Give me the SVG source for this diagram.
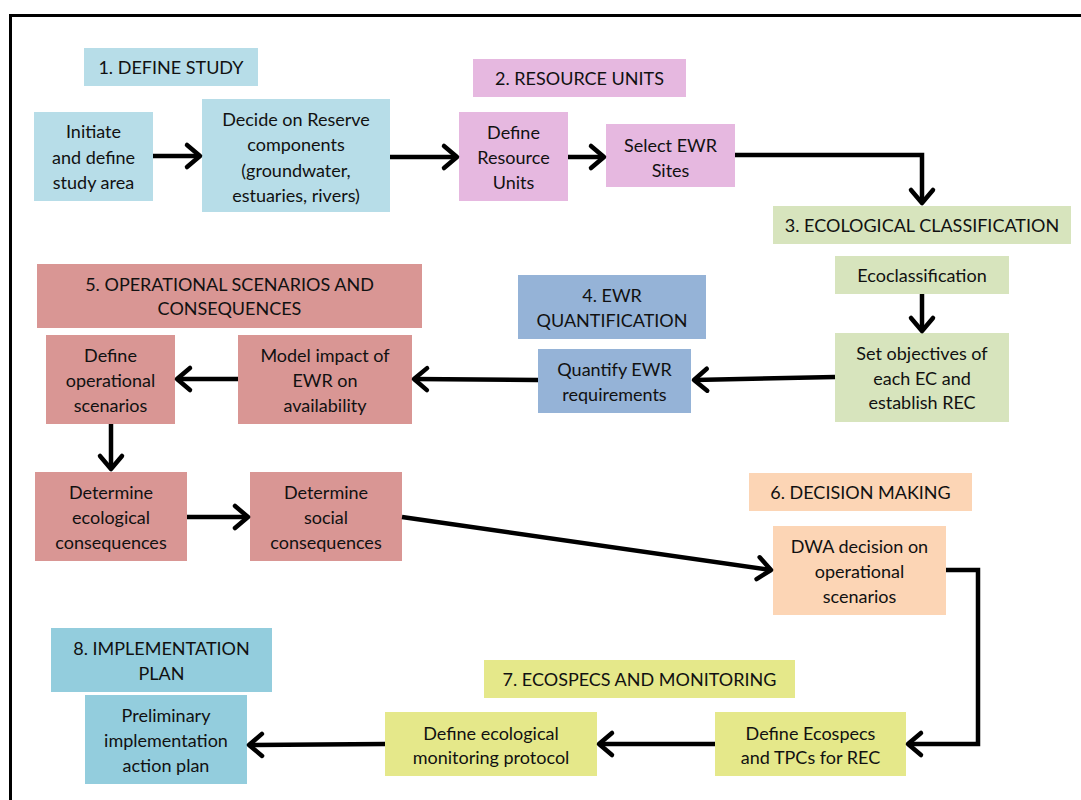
<svg xmlns="http://www.w3.org/2000/svg" width="1081" height="800" viewBox="0 0 1081 800">
<style>
text{font-family:Lato,"Open Sans","Liberation Sans",sans-serif;font-size:18px;fill:#111;text-anchor:middle;dominant-baseline:central}
.c1{fill:#b7dde8}.c2{fill:#e6b8e0}.c3{fill:#d7e4bd}.c4{fill:#95b3d7}.c5{fill:#d99694}.c6{fill:#fcd5b5}.c7{fill:#e5e88a}.c8{fill:#93cddd}
.conn path{fill:none;stroke:#000;stroke-width:4.5;stroke-linejoin:miter;marker-end:url(#ah)}
</style>
<defs>
<marker id="ah" markerUnits="userSpaceOnUse" markerWidth="30" markerHeight="30" viewBox="-20 -15 30 30" refX="0" refY="0" orient="auto" overflow="visible">
<path d="M-13,-11 L0,0 L-13,11" fill="none" stroke="#000" stroke-width="4.5" stroke-linecap="round" stroke-linejoin="round"/>
</marker>
</defs>
<rect x="0" y="0" width="1081" height="800" fill="#fff"/>
<rect x="10.5" y="15.5" width="1100" height="900" fill="none" stroke="#000" stroke-width="3"/>

<g id="h1"><rect class="c1" x="84" y="48" width="174" height="38"/><text x="171" y="67">1. DEFINE STUDY</text></g>
<g id="initiate"><rect class="c1" x="34" y="112" width="119" height="89"/><text x="93.5"><tspan x="93.5" y="131">Initiate</tspan><tspan x="93.5" y="157">and define</tspan><tspan x="93.5" y="182">study area</tspan></text></g>
<g id="decide"><rect class="c1" x="202" y="99" width="188" height="113"/><text x="296"><tspan x="296" y="119">Decide on Reserve</tspan><tspan x="296" y="144">components</tspan><tspan x="296" y="170">(groundwater,</tspan><tspan x="296" y="195">estuaries, rivers)</tspan></text></g>

<g id="h2"><rect class="c2" x="473" y="59" width="213" height="38"/><text x="579.5" y="78">2. RESOURCE UNITS</text></g>
<g id="defineRU"><rect class="c2" x="459" y="112" width="109" height="89"/><text x="513.5"><tspan x="513.5" y="132">Define</tspan><tspan x="513.5" y="157">Resource</tspan><tspan x="513.5" y="182">Units</tspan></text></g>
<g id="selectEWR"><rect class="c2" x="606" y="124" width="129" height="63"/><text x="670.5"><tspan x="670.5" y="145">Select EWR</tspan><tspan x="670.5" y="170">Sites</tspan></text></g>

<g id="h3"><rect class="c3" x="773" y="206" width="298" height="38"/><text x="922" y="225">3. ECOLOGICAL CLASSIFICATION</text></g>
<g id="ecoclass"><rect class="c3" x="835" y="256" width="174" height="38"/><text x="922" y="275">Ecoclassification</text></g>
<g id="setobj"><rect class="c3" x="835" y="333" width="174" height="89"/><text x="922"><tspan x="922" y="353">Set objectives of</tspan><tspan x="922" y="378">each EC and</tspan><tspan x="922" y="402">establish REC</tspan></text></g>

<g id="h4"><rect class="c4" x="518" y="275" width="188" height="64"/><text x="612"><tspan x="612" y="295">4. EWR</tspan><tspan x="612" y="320">QUANTIFICATION</tspan></text></g>
<g id="quantify"><rect class="c4" x="538" y="349" width="153" height="64"/><text x="614.5"><tspan x="614.5" y="369">Quantify EWR</tspan><tspan x="614.5" y="394">requirements</tspan></text></g>

<g id="h5"><rect class="c5" x="37" y="264" width="385" height="64"/><text x="229.5"><tspan x="229.5" y="284">5. OPERATIONAL SCENARIOS AND</tspan><tspan x="229.5" y="308">CONSEQUENCES</tspan></text></g>
<g id="defineop"><rect class="c5" x="46" y="335" width="129" height="89"/><text x="110.5"><tspan x="110.5" y="355">Define</tspan><tspan x="110.5" y="380">operational</tspan><tspan x="110.5" y="405">scenarios</tspan></text></g>
<g id="model"><rect class="c5" x="238" y="335" width="174" height="89"/><text x="325"><tspan x="325" y="355">Model impact of</tspan><tspan x="325" y="380">EWR on</tspan><tspan x="325" y="405">availability</tspan></text></g>
<g id="detEco"><rect class="c5" x="35" y="472" width="152" height="89"/><text x="111"><tspan x="111" y="492">Determine</tspan><tspan x="111" y="517">ecological</tspan><tspan x="111" y="542">consequences</tspan></text></g>
<g id="detSoc"><rect class="c5" x="250" y="472" width="152" height="89"/><text x="326"><tspan x="326" y="492">Determine</tspan><tspan x="326" y="517">social</tspan><tspan x="326" y="542">consequences</tspan></text></g>

<g id="h6"><rect class="c6" x="749" y="473" width="223" height="38"/><text x="860.5" y="492">6. DECISION MAKING</text></g>
<g id="dwa"><rect class="c6" x="773" y="526" width="173" height="89"/><text x="859.5"><tspan x="859.5" y="546">DWA decision on</tspan><tspan x="859.5" y="571">operational</tspan><tspan x="859.5" y="596">scenarios</tspan></text></g>

<g id="h7"><rect class="c7" x="484" y="660" width="311" height="38"/><text x="639.5" y="679">7. ECOSPECS AND MONITORING</text></g>
<g id="defEcoMon"><rect class="c7" x="385" y="712" width="212" height="64"/><text x="491"><tspan x="491" y="733">Define ecological</tspan><tspan x="491" y="757">monitoring protocol</tspan></text></g>
<g id="defEcospecs"><rect class="c7" x="715" y="712" width="191" height="64"/><text x="810.5"><tspan x="810.5" y="733">Define Ecospecs</tspan><tspan x="810.5" y="757">and TPCs for REC</tspan></text></g>

<g id="h8"><rect class="c8" x="51" y="628" width="221" height="64"/><text x="161.5"><tspan x="161.5" y="648">8. IMPLEMENTATION</tspan><tspan x="161.5" y="673">PLAN</tspan></text></g>
<g id="prelim"><rect class="c8" x="85" y="695" width="162" height="89"/><text x="166"><tspan x="166" y="715">Preliminary</tspan><tspan x="166" y="740">implementation</tspan><tspan x="166" y="765">action plan</tspan></text></g>

<g id="connectors" class="conn">
<path d="M153,156 L200,156"/>
<path d="M390,157 L457,157"/>
<path d="M568,157 L604,157"/>
<path d="M735,155 L922,155 L922,203"/>
<path d="M922,294 L922,331"/>
<path d="M835,377 L694,380"/>
<path d="M538,380 L414,379"/>
<path d="M238,379 L177,379"/>
<path d="M111,424 L111,469"/>
<path d="M187,517 L248,517"/>
<path d="M402,517 L771,570"/>
<path d="M946,570 L978,570 L978,744 L908,744"/>
<path d="M715,744 L599,744"/>
<path d="M385,744 L249,745"/>
</g>
</svg>
